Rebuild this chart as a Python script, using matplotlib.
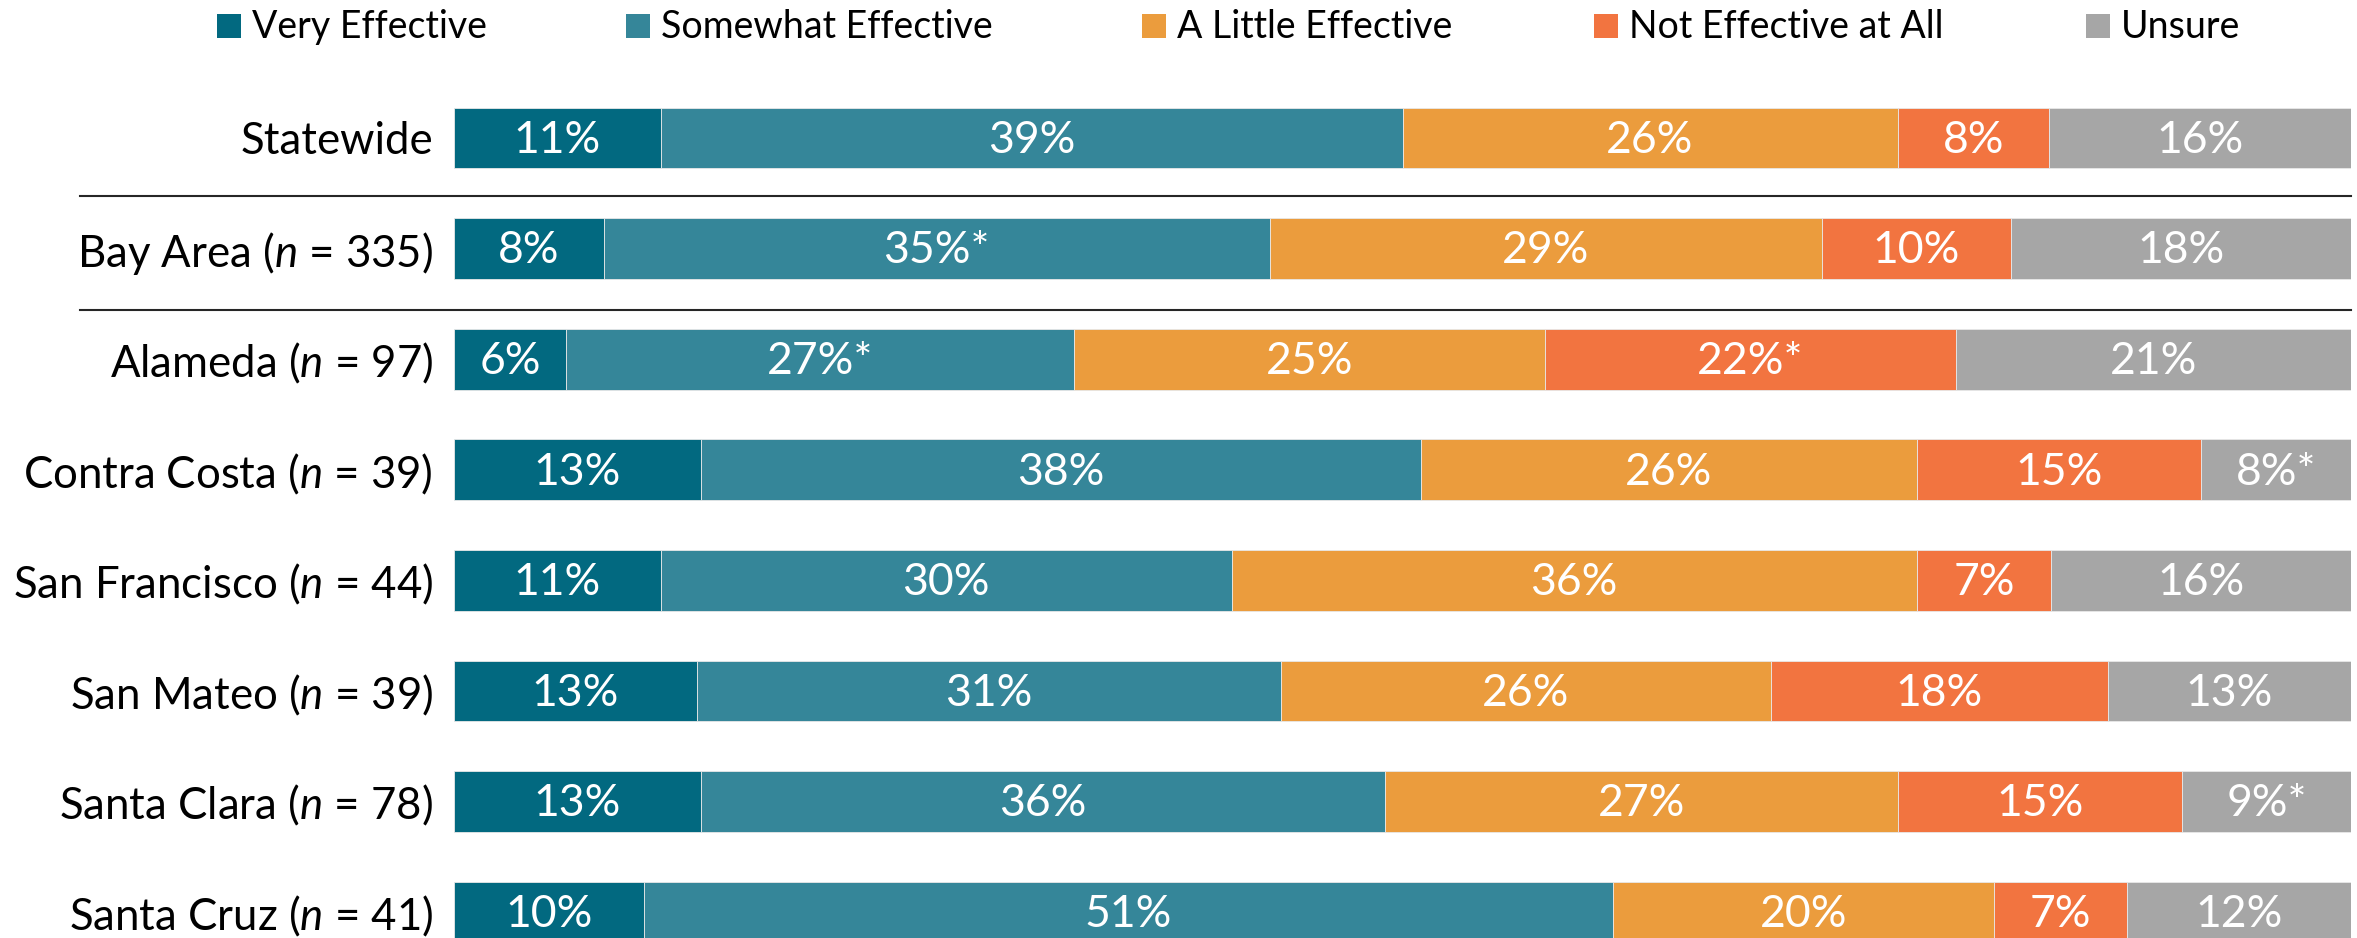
import matplotlib
matplotlib.use("Agg")
import matplotlib.pyplot as plt
from matplotlib.patches import Rectangle
from matplotlib.lines import Line2D
import numpy as np

FONT = ['Lato', 'DejaVu Sans']
plt.rcParams['font.family'] = FONT
plt.rcParams['mathtext.fontset'] = 'custom'
plt.rcParams['mathtext.it'] = 'Lato:italic'
plt.rcParams['mathtext.rm'] = 'Lato'

categories = ["Statewide", "Bay Area ($n$ = 335)", "Alameda ($n$ = 97)",
              "Contra Costa ($n$ = 39)", "San Francisco ($n$ = 44)",
              "San Mateo ($n$ = 39)", "Santa Clara ($n$ = 78)", "Santa Cruz ($n$ = 41)"]
series_names = ["Very Effective", "Somewhat Effective", "A Little Effective",
                "Not Effective at All", "Unsure"]

very_effective = [10.9, 7.9, 5.9, 13.0, 10.9, 12.8, 13.0, 10.0]
somewhat_effective = [39.1, 35.1, 26.8, 38.0, 30.1, 30.8, 36.1, 51.1]
little_effective = [26.1, 29.1, 24.8, 26.1, 36.1, 25.8, 27.0, 20.1]
not_effective = [8.0, 10.0, 21.7, 15.0, 7.1, 17.8, 15.0, 7.0]
unsure = [15.9, 17.9, 20.8, 7.9, 15.8, 12.8, 8.9, 11.8]

lbl_very = ["11%", "8%", "6%", "13%", "11%", "13%", "13%", "10%"]
lbl_somewhat = ["39%", "35%*", "27%*", "38%", "30%", "31%", "36%", "51%"]
lbl_little = ["26%", "29%", "25%", "26%", "36%", "26%", "27%", "20%"]
lbl_not = ["8%", "10%", "22%*", "15%", "7%", "18%", "15%", "7%"]
lbl_unsure = ["16%", "18%", "21%", "8%*", "16%", "13%", "9%*", "12%"]

colors = ["#026980", "#358699", "#EB9C3D", "#F27440", "#A6A6A6"]

W, H = 2357, 938
fig = plt.figure(figsize=(W / 100, H / 100), dpi=100)
ax_left = 454 / W
ax_right = 2351 / W
top_px = 60
ax = fig.add_axes([ax_left, 0, ax_right - ax_left, (H - top_px) / H])

pitch = 110.6
y0 = 138
ax.set_ylim((H - y0) / pitch, (top_px - y0) / pitch)
ax.set_xlim(0, 100)

all_vals = [very_effective, somewhat_effective, little_effective, not_effective, unsure]
all_lbls = [lbl_very, lbl_somewhat, lbl_little, lbl_not, lbl_unsure]
ypos = np.arange(len(categories))
left = np.zeros(len(categories))
for vals, lbls, col, name in zip(all_vals, all_lbls, colors, series_names):
    vals = np.array(vals)
    ax.barh(ypos, vals, left=left, height=0.55, color=col, edgecolor='#E8E8E8',
            linewidth=0.6, label=name)
    for y, l, v, t in zip(ypos, left, vals, lbls):
        ax.text(l + v / 2, y + 0.02, t, ha='center', va='center', color='white',
                fontsize=32)
    left = left + vals

ax.set_yticks(ypos)
ax.set_yticklabels(categories, fontsize=31.5)
ax.tick_params(axis='y', length=0, pad=15)
ax.tick_params(axis='x', bottom=False, labelbottom=False)
for s in ax.spines.values():
    s.set_visible(False)

for ysep in [0.524, 1.555]:
    ax.add_line(Line2D([(80 - 454) / 1897 * 100, 100], [ysep, ysep], color='#262626',
                       linewidth=1.5, clip_on=False))

# legend (manual layout to match reference spacing)
leg_x = [217, 626, 1142, 1594, 2086]
for x, c, name in zip(leg_x, colors, series_names):
    fig.patches.append(Rectangle((x / W, 1 - 38 / H), 24 / W, 24 / H,
                                 transform=fig.transFigure, facecolor=c,
                                 edgecolor='none'))
    fig.text((x + 35) / W, 1 - 27 / H, name, ha='left', va='center', fontsize=27)

fig.savefig("out.png", dpi=100)
